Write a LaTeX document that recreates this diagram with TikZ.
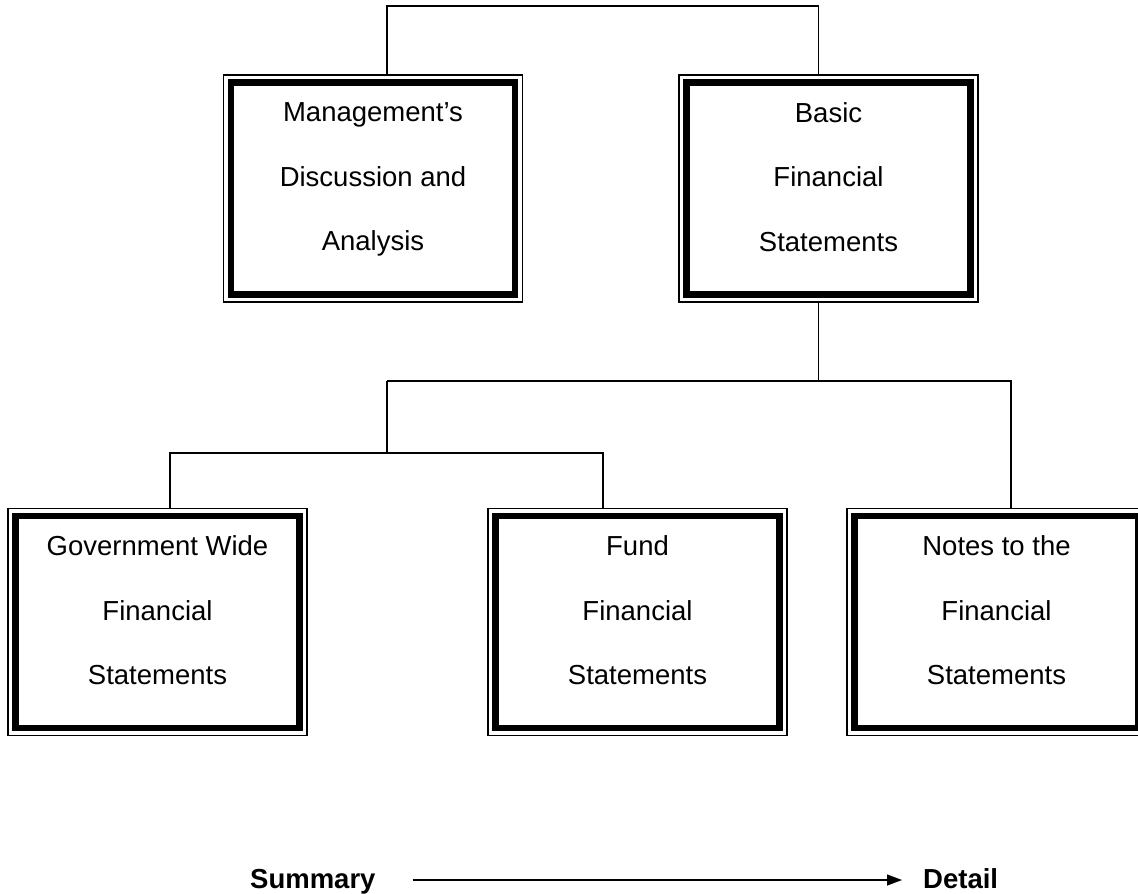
\documentclass[tikz,border=0pt]{standalone}
\usepackage{fontspec}
\setmainfont{Liberation Sans}
\usetikzlibrary{arrows.meta}
\tikzstyle{report} = [rectangle, draw, line width=6.6pt, fill=white,
    preaction={draw, line width=16.1pt}, preaction={draw=white, line width=13.5pt},
    text centered, align=center, minimum width=284pt, minimum height=212pt,
    text depth=23pt, inner sep=0pt, outer sep=8pt, font=\fontsize{27.5}{64.5}\selectfont]
\tikzstyle{legend} = [inner sep=0pt, text height=20pt, text depth=4pt,
    font=\bfseries\fontsize{27.5}{33}\selectfont]
\tikzstyle{link} = [draw, line width=1.3pt]

\begin{document}
\begin{tikzpicture}[x=1pt, y=-1pt]
    \useasboundingbox (0,0) rectangle (1138,894);
    % Place nodes
    \node [report] (mda) at (373,188.5) {Management’s\\Discussion and\\Analysis};
    \node [report] (basic) at (828.5,188.5) {Basic\\Financial\\Statements};
    \node [report] (govt) at (157.5,622) {Government Wide\\Financial\\Statements};
    \node [report] (fund) at (637.5,622) {Fund\\Financial\\Statements};
    \node [report] (notes) at (996.5,622) {Notes to the\\Financial\\Statements};
    \node [legend, anchor=base west] (summary) at (250,888) {Summary};
    \node [legend, anchor=base west] (detail) at (923,888) {Detail};
    \coordinate (top) at (600,6);
    \coordinate (hub) at (387,381);
    \coordinate (hub2) at (387,453);
    % Draw edges
    \path [link] ([xshift=14pt]mda.north) |- (top) -| ([xshift=-10pt]basic.north);
    \path [link] ([xshift=-10pt]basic.south) -- ([xshift=-10pt]basic.south |- hub);
    \path [link] (hub) -| ([xshift=14.5pt]notes.north);
    \path [link] (hub) -- (hub2);
    \path [link] (hub2) -| ([xshift=12.5pt]govt.north);
    \path [link] (hub2) -| ([xshift=-34.5pt]fund.north);
    \path [link, -{Triangle[length=15pt, width=11pt]}] ([xshift=37pt]summary.east) -- ([xshift=-21pt]detail.west);
\end{tikzpicture}
\end{document}
